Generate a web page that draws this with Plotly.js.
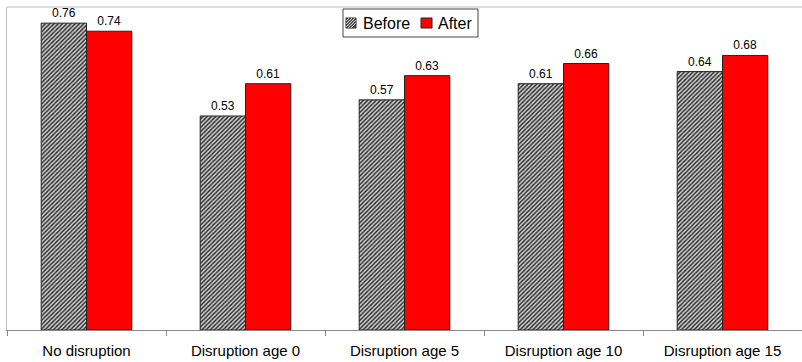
<!DOCTYPE html>
<html><head><meta charset="utf-8">
<script src="https://cdn.plot.ly/plotly-3.0.1.min.js"></script>
<style>body{margin:0;background:#fff}#c{width:802px;height:362px}</style>
</head><body><div id="c"></div>
<script>
const categories = ["No disruption","Disruption age 0","Disruption age 5","Disruption age 10","Disruption age 15"];
const before = [0.76,0.53,0.57,0.61,0.64];
const after = [0.74,0.61,0.63,0.66,0.68];
const seriesNames = ["Before","After"];
const fmt = v => v.toFixed(2);
const M = {l:7,r:0,t:7,b:32}, W = 802, H = 362;
const PW = W - M.l - M.r, PH = H - M.t - M.b;
const px = x => (x - M.l) / PW;
const py = y => 1 - (y - M.t) / PH;
const hatch = {shape:'/',fgcolor:'#222',bgcolor:'#d0d0d0',size:3,solidity:0.45};
const traces = [
 {type:'bar',name:seriesNames[0],x:categories,y:before,text:before.map(fmt),textposition:'outside',cliponaxis:false,
  textfont:{family:'Liberation Sans, Arial',size:12,color:'#000'},
  marker:{color:'#ffffff',line:{color:'#222',width:1},pattern:hatch}},
 {type:'bar',name:seriesNames[1],x:categories,y:after,text:after.map(fmt),textposition:'outside',cliponaxis:false,
  textfont:{family:'Liberation Sans, Arial',size:12,color:'#000'},
  marker:{color:'#ff0000',line:{color:'#222',width:1}}}
];
// custom legend (box, swatches, labels)
const shapes = [
 {type:'line',xref:'paper',yref:'paper',x0:0,x1:1,y0:1,y1:1,line:{color:'#bbb',width:1}},
 {type:'rect',xref:'paper',yref:'paper',x0:px(343),x1:px(478),y0:py(9),y1:py(37),fillcolor:'#fff',line:{color:'#444',width:1}},
 {type:'rect',xref:'paper',yref:'paper',x0:px(346),x1:px(356),y0:py(18),y1:py(28),fillcolor:'#555',line:{color:'#222',width:1}},
 {type:'rect',xref:'paper',yref:'paper',x0:px(421),x1:px(432),y0:py(18),y1:py(28),fillcolor:'#ff0000',line:{color:'#222',width:1}}
];
// light diagonal lines in the hatched swatch
(function(){
  const x0=346,x1=356,y0=18,y1=28;
  for(let d=-7; d<=7; d+=3){
    // line x - x0 + (y1 - y) = const, clipped to square
    let pts=[];
    for(let t=0;t<=10;t+=0.5){
      const xx=x0+t+d, yy=y1-t;
      if(xx>=x0 && xx<=x1) pts.push([xx,yy]);
    }
    if(pts.length>1){
      const a=pts[0], b=pts[pts.length-1];
      shapes.push({type:'line',xref:'paper',yref:'paper',x0:px(a[0]),y0:py(a[1]),x1:px(b[0]),y1:py(b[1]),line:{color:'#cfcfcf',width:1}});
    }
  }
})();
const annotations = [
 {xref:'paper',yref:'paper',x:px(361),y:py(23),xanchor:'left',yanchor:'middle',text:seriesNames[0],showarrow:false,font:{size:16,color:'#000'}},
 {xref:'paper',yref:'paper',x:px(436),y:py(23),xanchor:'left',yanchor:'middle',text:seriesNames[1],showarrow:false,font:{size:16,color:'#000'}}
];
const layout = {
 width:W,height:H,margin:M,
 paper_bgcolor:'#fff',plot_bgcolor:'#fff',
 font:{family:'Liberation Sans, Arial',color:'#000'},
 barmode:'group',bargap:0.43,bargroupgap:0,
 xaxis:{type:'category',tickson:'boundaries',ticks:'outside',ticklen:5,tickcolor:'#888',
  showline:true,linecolor:'#888',linewidth:1,tickfont:{size:15},showgrid:false,ticklabelstandoff:7},
 yaxis:{range:[0,0.8],showticklabels:false,showgrid:false,zeroline:false,showline:true,linecolor:'#bbb',ticks:''},
 shapes:shapes, annotations:annotations,
 showlegend:false
};
Plotly.newPlot('c',traces,layout,{displayModeBar:false,staticPlot:true});
</script></body></html>
